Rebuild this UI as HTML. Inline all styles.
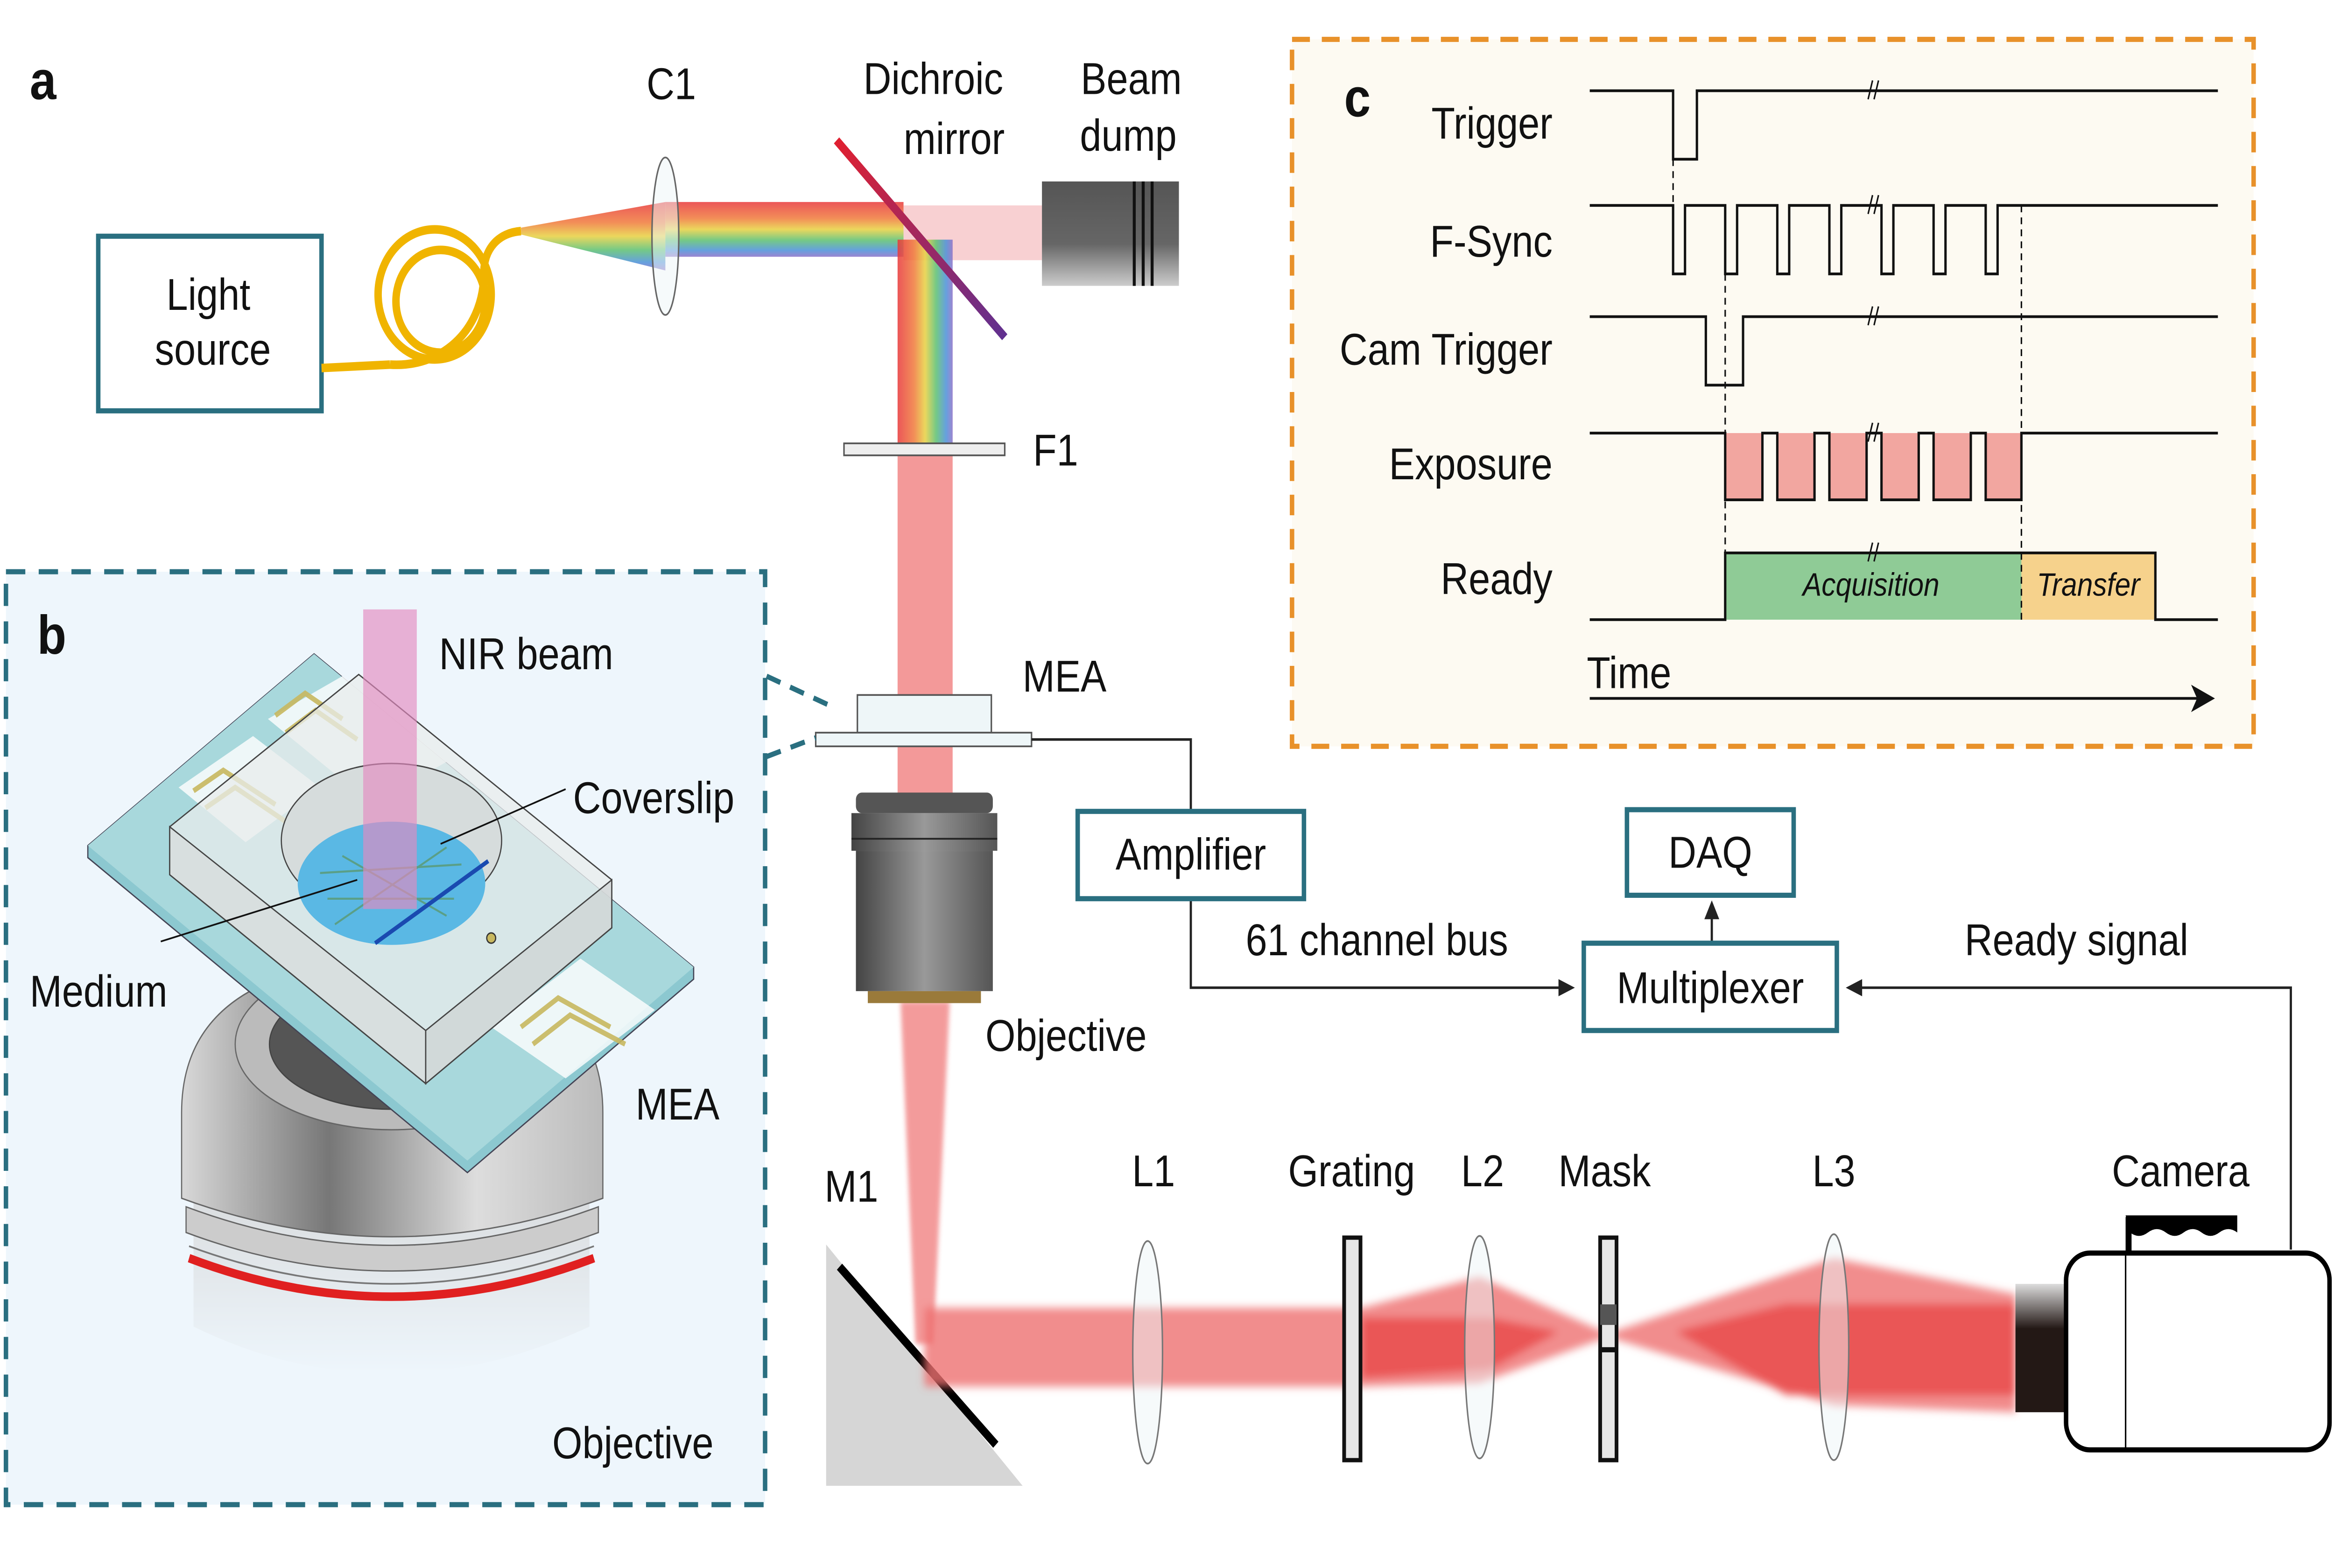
<!DOCTYPE html>
<html><head><meta charset="utf-8"><style>
html,body{margin:0;padding:0;background:#fff;width:100%;height:100%;overflow:hidden;}
svg{display:block;width:100vw;height:100vh;}
text{font-family:"Liberation Sans",Arial,sans-serif;fill:#111;}
</style></head><body>
<svg viewBox="0 0 1568 916" preserveAspectRatio="none" xmlns="http://www.w3.org/2000/svg">
<defs>
<linearGradient id="rbH" x1="0" y1="0" x2="0" y2="1">
<stop offset="0" stop-color="#e8383a"/><stop offset="0.3" stop-color="#f07a3a"/><stop offset="0.5" stop-color="#e8d040"/><stop offset="0.7" stop-color="#5cc070"/><stop offset="0.88" stop-color="#4a90d8"/><stop offset="1" stop-color="#8a70c8"/></linearGradient>
<linearGradient id="rbV" x1="0" y1="0" x2="1" y2="0">
<stop offset="0" stop-color="#e8383a"/><stop offset="0.3" stop-color="#f07a3a"/><stop offset="0.5" stop-color="#e8d040"/><stop offset="0.7" stop-color="#5cc070"/><stop offset="0.88" stop-color="#4a90d8"/><stop offset="1" stop-color="#8a70c8"/></linearGradient>
<linearGradient id="dumpV" x1="0" y1="0" x2="0" y2="1"><stop offset="0" stop-color="#555"/><stop offset="0.6" stop-color="#666"/><stop offset="1" stop-color="#ccc"/></linearGradient>
<linearGradient id="dich" x1="0" y1="0" x2="1" y2="1"><stop offset="0" stop-color="#e02030"/><stop offset="1" stop-color="#603090"/></linearGradient>
<linearGradient id="objG" x1="0" y1="0" x2="1" y2="0"><stop offset="0" stop-color="#444"/><stop offset="0.5" stop-color="#999"/><stop offset="1" stop-color="#555"/></linearGradient>
<linearGradient id="objB" x1="0" y1="0" x2="1" y2="0"><stop offset="0" stop-color="#d8d8d8"/><stop offset="0.35" stop-color="#777"/><stop offset="0.7" stop-color="#ddd"/><stop offset="1" stop-color="#bbb"/></linearGradient>
<linearGradient id="objFade" x1="0" y1="0" x2="0" y2="1"><stop offset="0" stop-color="#cfcfcf"/><stop offset="1" stop-color="#eef6fc"/></linearGradient>
<linearGradient id="camL" x1="0" y1="0" x2="0" y2="1"><stop offset="0" stop-color="#ddd"/><stop offset="0.35" stop-color="#231815"/><stop offset="1" stop-color="#231815"/></linearGradient>
<filter id="blur"><feGaussianBlur stdDeviation="2.5"/></filter>
<filter id="blur2"><feGaussianBlur stdDeviation="1.5"/></filter>
</defs>

<text x="20" y="58" font-size="32" font-weight="bold">a</text>
<rect x="66" y="138" width="150" height="102" fill="#fff" stroke="#2a6f80" stroke-width="3"/>
<text x="140" y="181" font-size="26" text-anchor="middle">Light</text>
<text x="143" y="213" font-size="26" text-anchor="middle">source</text>
<g fill="none" stroke="#f0b400" stroke-width="5">
<path d="M216 215 L262 213"/>
<circle cx="292" cy="172" r="38"/>
<circle cx="296" cy="176" r="30"/>
<path d="M262 213 C300 215 325 190 325 160 C325 145 335 136 350 135"/>
</g>
<polygon points="350,133 447,118 447,158 350,137" fill="url(#rbH)" opacity="0.85"/>
<rect x="447" y="118" width="160" height="32" fill="url(#rbH)" opacity="0.85"/>
<rect x="607" y="120" width="93" height="32" fill="#f4b0b4" opacity="0.6"/>
<rect x="603" y="140" width="37" height="122" fill="url(#rbV)" opacity="0.85"/>
<rect x="603" y="266" width="37" height="140" fill="#f08080" opacity="0.8"/>
<rect x="603" y="436" width="37" height="30" fill="#f08080" opacity="0.8"/>
<polygon points="605,585 638,585 627,785 615,785" fill="#f07a7a" opacity="0.75" filter="url(#blur2)"/>
<ellipse cx="447" cy="138" rx="9" ry="46" fill="#eef6f8" fill-opacity="0.5" stroke="#666" stroke-width="1"/>
<text x="451" y="58" font-size="26" text-anchor="middle">C1</text>
<line x1="562" y1="82" x2="675" y2="197" stroke="url(#dich)" stroke-width="5"/>
<text x="627" y="55" font-size="26" text-anchor="middle">Dichroic</text>
<text x="641" y="90" font-size="26" text-anchor="middle">mirror</text>
<text x="760" y="55" font-size="26" text-anchor="middle">Beam</text>
<text x="758" y="88" font-size="26" text-anchor="middle">dump</text>
<rect x="700" y="106" width="92" height="61" fill="url(#dumpV)"/>
<line x1="762" y1="106" x2="762" y2="167" stroke="#111" stroke-width="2"/>
<line x1="768" y1="106" x2="768" y2="167" stroke="#111" stroke-width="2"/>
<line x1="774" y1="106" x2="774" y2="167" stroke="#111" stroke-width="2"/>
<rect x="567" y="259" width="108" height="7" fill="#eee" stroke="#555" stroke-width="1"/>
<text x="694" y="272" font-size="26">F1</text>
<rect x="576" y="406" width="90" height="22" fill="#eef6f8" stroke="#555" stroke-width="1"/>
<rect x="548" y="428" width="145" height="8" fill="#eef6f8" stroke="#555" stroke-width="1"/>
<text x="687" y="404" font-size="26">MEA</text>
<line x1="515" y1="395" x2="562" y2="414" stroke="#2a6f80" stroke-width="3" stroke-dasharray="10,7"/>
<line x1="515" y1="442" x2="548" y2="431" stroke="#2a6f80" stroke-width="3" stroke-dasharray="10,7"/>
<rect x="575" y="463" width="92" height="12" rx="4" fill="#555"/>
<rect x="572" y="475" width="98" height="22" fill="url(#objG)"/>
<line x1="572" y1="490" x2="670" y2="490" stroke="#222" stroke-width="1"/>
<rect x="575" y="497" width="92" height="82" fill="url(#objG)"/>
<rect x="583" y="579" width="76" height="7" fill="#9a7a3a"/>
<text x="662" y="614" font-size="26">Objective</text>
<g stroke="#222" stroke-width="1.5" fill="none">
<path d="M693 432 H800 V474"/>
<path d="M800 525 V577 H1052"/>
<path d="M1150 551 V533"/>
<path d="M1539 730 V577 H1248"/>
</g>
<polygon points="1058,577 1047,572 1047,582" fill="#222"/>
<polygon points="1150,526 1145,537 1155,537" fill="#222"/>
<polygon points="1240,577 1251,572 1251,582" fill="#222"/>
<rect x="724" y="474" width="152" height="51" fill="#fff" stroke="#2a6f80" stroke-width="3"/>
<text x="800" y="508" font-size="26" text-anchor="middle">Amplifier</text>
<rect x="1093" y="473" width="112" height="50" fill="#fff" stroke="#2a6f80" stroke-width="3"/>
<text x="1149" y="507" font-size="26" text-anchor="middle">DAQ</text>
<rect x="1064" y="551" width="170" height="51" fill="#fff" stroke="#2a6f80" stroke-width="3"/>
<text x="1149" y="586" font-size="26" text-anchor="middle">Multiplexer</text>
<text x="925" y="558" font-size="26" text-anchor="middle">61 channel bus</text>
<text x="1395" y="558" font-size="26" text-anchor="middle">Ready signal</text>

<polygon points="555,727 555,868 687,868" fill="#d6d6d6"/>
<line x1="564" y1="740" x2="669" y2="844" stroke="#000" stroke-width="5"/>
<text x="572" y="702" font-size="26" text-anchor="middle">M1</text>
<g filter="url(#blur)">
<polygon points="621,764 915,764 994,746 1080,779 1232,735 1354,756 1354,825 1232,821 1080,781 994,808 915,810 621,810" fill="#ee7070" opacity="0.8"/>
<polygon points="915,770 1000,770 1047,778 1000,800 915,805" fill="#e84848" opacity="0.8"/>
<polygon points="1126,778 1200,762 1354,762 1354,815 1200,815" fill="#e84848" opacity="0.8"/>
</g>
<g fill="#eef6f8" fill-opacity="0.5" stroke="#777" stroke-width="1">
<ellipse cx="771" cy="790" rx="10" ry="65"/>
<ellipse cx="994" cy="787" rx="10" ry="65"/>
<ellipse cx="1232" cy="787" rx="10" ry="66"/>
</g>
<rect x="903" y="723" width="11" height="130" fill="#e6e6e6" stroke="#111" stroke-width="2.5"/>
<rect x="1075" y="723" width="11" height="130" fill="#e6e6e6" stroke="#111" stroke-width="2.5"/>
<rect x="1075" y="762" width="11" height="12" fill="#555"/>
<rect x="1075" y="787" width="11" height="3" fill="#111"/>
<text x="775" y="693" font-size="26" text-anchor="middle">L1</text>
<text x="908" y="693" font-size="26" text-anchor="middle">Grating</text>
<text x="996" y="693" font-size="26" text-anchor="middle">L2</text>
<text x="1078" y="693" font-size="26" text-anchor="middle">Mask</text>
<text x="1232" y="693" font-size="26" text-anchor="middle">L3</text>
<text x="1465" y="693" font-size="26" text-anchor="middle">Camera</text>
<rect x="1354" y="750" width="34" height="75" fill="url(#camL)"/>
<rect x="1388" y="732" width="177" height="115" rx="16" fill="#fff" stroke="#000" stroke-width="3"/>
<line x1="1428" y1="732" x2="1428" y2="847" stroke="#000" stroke-width="1"/>
<rect x="1428" y="711" width="4" height="21" fill="#000"/>
<path d="M1428 710 H1503 V720 Q1497 716 1491 720 Q1485 724 1479 720 Q1473 716 1467 720 Q1461 724 1455 720 Q1449 716 1443 720 Q1437 724 1431 720 Z" fill="#000"/>

<rect x="868" y="23" width="646" height="413" fill="#fdfaf2" stroke="#e8912a" stroke-width="3" stroke-dasharray="12,8"/>
<text x="903" y="68" font-size="32" font-weight="bold">c</text>
<g font-size="26" text-anchor="end">
<text x="1043" y="81">Trigger</text>
<text x="1043" y="150">F-Sync</text>
<text x="1043" y="213">Cam Trigger</text>
<text x="1043" y="280">Exposure</text>
<text x="1043" y="347">Ready</text>
</g>
<rect x="1159" y="323" width="199" height="39" fill="#8fcb96"/>
<rect x="1358" y="323" width="90" height="39" fill="#f6d28c"/>
<g fill="#f2a6a0">
<rect x="1159" y="253" width="25" height="39"/>
<rect x="1194" y="253" width="25" height="39"/>
<rect x="1229" y="253" width="25" height="39"/>
<rect x="1264" y="253" width="25" height="39"/>
<rect x="1299" y="253" width="25" height="39"/>
<rect x="1334" y="253" width="24" height="39"/>
</g>
<g fill="none" stroke="#111" stroke-width="1.6">
<path d="M1068 53 H1124 V93 H1140 V53 H1490"/>
<path d="M1068 120 H1124 V160 H1132 V120 H1159 V160 H1167 V120 H1194 V160 H1202 V120 H1229 V160 H1237 V120 H1264 V160 H1272 V120 H1299 V160 H1307 V120 H1334 V160 H1342 V120 H1490"/>
<path d="M1068 185 H1146 V225 H1171 V185 H1490"/>
<path d="M1068 253 H1159 V292 H1184 V253 H1194 V292 H1219 V253 H1229 V292 H1254 V253 H1264 V292 H1289 V253 H1299 V292 H1324 V253 H1334 V292 H1358 V253 H1490"/>
<path d="M1068 362 H1159 V323 H1448 V362 H1490"/>
<path d="M1068 408 H1478"/>
</g>
<polygon points="1488,408 1472,400 1476,408 1472,416" fill="#111"/>
<g stroke="#111" stroke-width="1" stroke-dasharray="4,3">
<line x1="1124" y1="93" x2="1124" y2="120"/>
<line x1="1159" y1="160" x2="1159" y2="362"/>
<line x1="1358" y1="120" x2="1358" y2="362"/>
</g>
<g stroke="#111" stroke-width="1">
<line x1="1255" y1="58" x2="1258" y2="47"/><line x1="1259" y1="58" x2="1262" y2="47"/>
<line x1="1255" y1="125" x2="1258" y2="114"/><line x1="1259" y1="125" x2="1262" y2="114"/>
<line x1="1255" y1="190" x2="1258" y2="179"/><line x1="1259" y1="190" x2="1262" y2="179"/>
<line x1="1255" y1="258" x2="1258" y2="247"/><line x1="1259" y1="258" x2="1262" y2="247"/>
<line x1="1255" y1="328" x2="1258" y2="317"/><line x1="1259" y1="328" x2="1262" y2="317"/>
</g>
<text x="1257" y="348" font-size="19" font-style="italic" text-anchor="middle">Acquisition</text>
<text x="1403" y="348" font-size="19" font-style="italic" text-anchor="middle">Transfer</text>
<text x="1066" y="402" font-size="26">Time</text>

<rect x="4" y="334" width="510" height="545" fill="#eef6fc" stroke="#2a6f80" stroke-width="3" stroke-dasharray="13,9"/>
<text x="25" y="382" font-size="32" font-weight="bold">b</text>
<path d="M130 640 L130 775 Q260 830 396 775 L396 640 Z" fill="url(#objFade)"/>
<path d="M122 650 Q122 565 263 560 Q405 565 405 650 L405 700 Q263 745 122 700 Z" fill="url(#objB)" stroke="#666" stroke-width="0.8"/>
<path d="M125 705 Q263 750 402 705 L402 720 Q263 765 125 720 Z" fill="#ccc" stroke="#666" stroke-width="0.8"/>
<path d="M127 735 Q263 780 399 735" fill="none" stroke="#e02020" stroke-width="5"/>
<path d="M127 728 Q263 772 399 728" fill="none" stroke="#777" stroke-width="1"/>
<ellipse cx="263" cy="610" rx="105" ry="50" fill="#bbb" stroke="#666" stroke-width="0.8"/>
<ellipse cx="263" cy="610" rx="82" ry="38" fill="#555" stroke="#444" stroke-width="0.8"/>
<polygon points="211,382 466,565 466,572 314,685 59,501 59,494" fill="#8cc8d0" stroke="#445" stroke-width="0.8"/>
<polygon points="211,382 466,565 314,678 59,494" fill="#a8d8dc"/>
<polygon points="180,420 230,395 300,445 250,470" fill="#fff" opacity="0.8"/>
<polygon points="120,460 170,430 215,460 165,492" fill="#fff" opacity="0.8"/>
<polygon points="330,600 390,560 440,590 380,630" fill="#fff" opacity="0.8"/>
<g stroke="#c8b860" stroke-width="3" fill="none" opacity="0.9">
<path d="M185 418 L205 405 L230 420"/><path d="M192 428 L212 415 L240 432"/>
<path d="M130 462 L150 450 L185 470"/><path d="M138 472 L158 460 L192 480"/>
<path d="M350 600 L375 583 L410 600"/><path d="M358 610 L383 593 L420 610"/>
</g>
<polygon points="114,483 241,394 411,514 411,542 286,633 114,511" fill="#e8ecec" fill-opacity="0.75" stroke="#444" stroke-width="0.8"/>
<polygon points="114,483 286,602 286,633 114,511" fill="#d8dcdc" fill-opacity="0.7" stroke="#444" stroke-width="0.8"/>
<polygon points="286,602 411,514 411,542 286,633" fill="#cfd3d3" fill-opacity="0.7" stroke="#444" stroke-width="0.8"/>
<ellipse cx="263" cy="491" rx="74" ry="45" fill="#d6dcdc" stroke="#444" stroke-width="0.8"/>
<ellipse cx="263" cy="516" rx="63" ry="36" fill="#5ab8e4"/>
<g stroke="#5a9a70" stroke-width="1.2" fill="none" opacity="0.8">
<path d="M215 510 L310 505"/><path d="M220 525 L305 525"/><path d="M230 500 L300 535"/><path d="M300 495 L225 540"/>
</g>
<line x1="252" y1="551" x2="328" y2="503" stroke="#1a4ab0" stroke-width="2.5"/>
<rect x="244" y="356" width="36" height="175" fill="#e48ac0" opacity="0.65"/>
<circle cx="330" cy="548" r="3" fill="#c8b860" stroke="#333" stroke-width="0.8"/>
<line x1="296" y1="493" x2="380" y2="461" stroke="#111" stroke-width="1"/>
<line x1="108" y1="550" x2="240" y2="514" stroke="#111" stroke-width="1"/>
<text x="295" y="391" font-size="26">NIR beam</text>
<text x="385" y="475" font-size="26">Coverslip</text>
<text x="20" y="588" font-size="26">Medium</text>
<text x="427" y="654" font-size="26">MEA</text>
<text x="371" y="852" font-size="26">Objective</text>
</svg>
</body></html>
